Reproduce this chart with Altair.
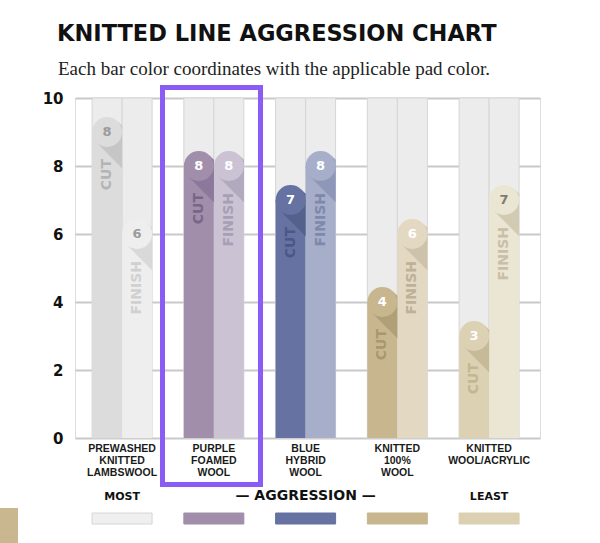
import altair as alt
import pandas as pd

groups = ["PREWASHED\nKNITTED\nLAMBSWOOL", "PURPLE\nFOAMED\nWOOL", "BLUE\nHYBRID\nWOOL",
          "KNITTED\n100%\nWOOL", "KNITTED\nWOOL/ACRYLIC"]
series = ["CUT", "FINISH"]

# bar heights as drawn and the numbers printed in the badges
cut_heights = [9, 8, 7, 4, 3]
finish_heights = [6, 8, 8, 6, 7]
cut_labels = ["8", "8", "7", "4", "3"]
finish_labels = ["6", "8", "8", "6", "7"]

cut_colors = ["#dcdcdc", "#a08eab", "#6572a2", "#c8b78e", "#dcd1b2"]
finish_colors = ["#eeeeee", "#cbc3d4", "#a6aeca", "#e3d9c3", "#ebe5d4"]
cut_shadows = ["#c6c6c6", "#8b789a", "#55618d", "#b0a077", "#c6ba98"]
finish_shadows = ["#d9d9d9", "#b1a9bd", "#8e97b8", "#cdc2aa", "#d2cab3"]
cut_num_colors = ["#9b9b9b", "#ffffff", "#ffffff", "#ffffff", "#ffffff"]
finish_num_colors = ["#9b9b9b", "#ffffff", "#ffffff", "#ffffff", "#7d7a72"]
cut_text_colors = ["#b4b4b4", "#77668a", "#4b5784", "#a8976f", "#c3b792"]
finish_text_colors = ["#d0d0d0", "#a79fb3", "#7e88ab", "#bdb198", "#c9bfa6"]

swatch_colors = ["#efefef", "#a08eab", "#6572a2", "#c8b78e", "#dbd0b1"]
swatch_strokes = ["#d6d6d6", "#a08eab", "#6572a2", "#c8b78e", "#dbd0b1"]
legend_small = ["MOST", "", "", "", "LEAST"]
legend_big = ["", "", "— AGGRESSION —", "", ""]

rows = []
for i, g in enumerate(groups):
    rows.append(dict(group=g, series="CUT", height=cut_heights[i], label=cut_labels[i],
                     color=cut_colors[i], shadow=cut_shadows[i], numc=cut_num_colors[i],
                     textc=cut_text_colors[i]))
    rows.append(dict(group=g, series="FINISH", height=finish_heights[i], label=finish_labels[i],
                     color=finish_colors[i], shadow=finish_shadows[i], numc=finish_num_colors[i],
                     textc=finish_text_colors[i]))
bars = pd.DataFrame(rows)
legend = pd.DataFrame(dict(group=groups, swatch=swatch_colors, sstroke=swatch_strokes,
                           small=legend_small, big=legend_big))
one = pd.DataFrame({"k": [0]})

xscale = alt.Scale(domain=groups, paddingInner=0.346, paddingOuter=0.207, align=0.45)
yscale = alt.Scale(domain=[0, 10], nice=False)
X = alt.X("group:N", scale=xscale, sort=groups,
          axis=alt.Axis(title=None, labelAngle=0, domain=False, ticks=False, labelPadding=5,
                        labelExpr="split(datum.label, '\\n')",
                        labelFont="Liberation Sans",
                        labelFontSize=10.5, labelFontWeight="bold", labelLineHeight=12,
                        labelColor="#1a1a1a"))
XO = alt.XOffset("series:N", scale=alt.Scale(domain=series, paddingInner=0, paddingOuter=0))
Y = alt.Y("height:Q", scale=yscale,
          axis=alt.Axis(title=None, values=list(range(11)),
                        labelExpr="datum.value % 2 == 0 ? datum.label : ''",
                        grid=True, gridColor="#c9c9c9", gridWidth=2, domain=False, ticks=False,
                        labelFont="DejaVu Sans", labelFontWeight="bold", labelFontSize=15,
                        labelColor="#111111", labelPadding=12))

base = alt.Chart(bars)

columns = base.mark_rect(fill="#ececec", stroke="#d6d6d6", strokeWidth=1).encode(
    x=X, xOffset=XO, y=alt.Y(datum=0, scale=yscale), y2=alt.Y2(datum=10))

barmark = base.mark_bar(width=30).encode(
    x=X, xOffset=XO, y=Y, y2=alt.Y2(datum=0),
    color=alt.Color("color:N", scale=None))

shadow_path = "M 0.707 -0.707 L 1 -0.414 L 1 2.414 L -0.707 0.707 Z"
shadows = base.mark_point(shape=shadow_path, size=900, filled=True, opacity=1).encode(
    x=X, xOffset=XO, y=Y, color=alt.Color("shadow:N", scale=None))

circles = base.mark_point(shape="circle", size=900, filled=True, opacity=1).encode(
    x=X, xOffset=XO, y=Y, color=alt.Color("color:N", scale=None))

numbers = base.mark_text(font="DejaVu Sans", fontWeight="bold", fontSize=13,
                         baseline="middle", align="center").encode(
    x=X, xOffset=XO, y=Y, text="label:N", color=alt.Color("numc:N", scale=None))

names = base.mark_text(font="DejaVu Sans", fontWeight="bold", fontSize=14, angle=270,
                       align="right", baseline="middle", dx=-27).encode(
    x=X, xOffset=XO, y=Y, text="series:N", color=alt.Color("textc:N", scale=None))

frame = alt.Chart(one).mark_rect(fill=None, stroke="#8a5cf5", strokeWidth=5).encode(
    x=alt.value(87.5), x2=alt.value(185.5), y=alt.value(-10.5), y2=alt.value(386.5))

lbase = alt.Chart(legend)
swatches = lbase.mark_rect(strokeWidth=1).encode(
    x=X, y=alt.value(415), y2=alt.value(426),
    fill=alt.Color("swatch:N", scale=None), stroke=alt.Stroke("sstroke:N", scale=None))
small_txt = lbase.mark_text(font="DejaVu Sans", fontWeight="bold", fontSize=11,
                            color="#111111", baseline="middle").encode(
    x=X, y=alt.value(399), text="small:N")
big_txt = lbase.mark_text(font="DejaVu Sans", fontWeight="bold", fontSize=14,
                          color="#111111", baseline="middle").encode(
    x=X, y=alt.value(398), text="big:N")

title = alt.Chart(one).mark_text(text="KNITTED LINE AGGRESSION CHART", font="DejaVu Sans",
                                 fontWeight="bold", fontSize=22.5, align="left",
                                 baseline="alphabetic", color="#111111").encode(
    x=alt.value(-18), y=alt.value(-57))
subtitle = alt.Chart(one).mark_text(
    text="Each bar color coordinates with the applicable pad color.",
    font="Liberation Serif", fontSize=19, align="left", baseline="alphabetic",
    color="#222222").encode(x=alt.value(-17), y=alt.value(-23))
tan = alt.Chart(one).mark_rect(fill="#c9b88f").encode(
    x=alt.value(-75), x2=alt.value(-57), y=alt.value(410), y2=alt.value(445))

chart = alt.layer(columns, barmark, shadows, circles, numbers, names, frame,
                  swatches, small_txt, big_txt, title, subtitle, tan).properties(
    width=465, height=340,
    autosize=alt.AutoSizeParams(type="none"),
    padding={"left": 75, "top": 98, "right": 60, "bottom": 105},
).configure_view(stroke=None).configure(background="white")

chart.save("out.html", embed_options={"renderer": "svg", "actions": False})
